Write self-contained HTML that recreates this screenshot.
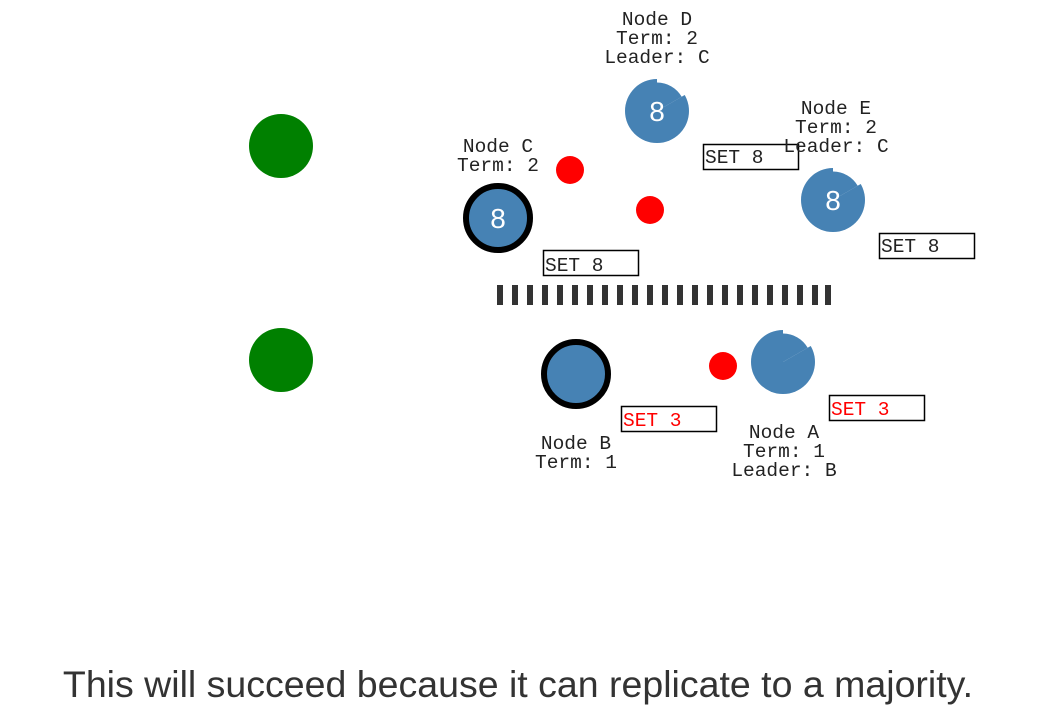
<!DOCTYPE html>
<html><head><meta charset="utf-8"><style>
html,body{margin:0;padding:0;background:#fff;width:1058px;height:713px;overflow:hidden}
svg{display:block}
.m{font-family:"Liberation Mono",monospace;font-size:19.5px;fill:#222;text-anchor:middle;font-weight:300}
.b{font-family:"Liberation Mono",monospace;font-size:19.5px;fill:#222}
.r{fill:#f00}
.n{font-family:"Liberation Sans",sans-serif;font-size:28px;fill:#fff;text-anchor:middle}
</style></head><body>
<svg width="1058" height="713" viewBox="0 0 1058 713">
<defs>
<g id="nc">
<circle r="32" fill="#4682b4"/>
<path d="M0,0 L0,-34 A34,34 0 0 1 29.4,-17 Z" fill="#fff"/>
<path d="M0,0 L0,-28.5 A28.5,28.5 0 0 1 24.7,-14.25 Z" fill="#4682b4"/>
</g>
</defs>
<circle cx="281" cy="146" r="32" fill="#008000"/>
<circle cx="281" cy="360" r="32" fill="#008000"/>

<text class="m" x="657" y="25">Node D</text>
<text class="m" x="657" y="44">Term: 2</text>
<text class="m" x="657" y="63">Leader: C</text>
<use href="#nc" x="657" y="111"/>
<text class="n" x="657" y="121">8</text>

<text class="m" x="836" y="114">Node E</text>
<text class="m" x="836" y="133">Term: 2</text>
<use href="#nc" x="833" y="200"/>
<text class="n" x="833" y="210">8</text>

<text class="m" x="498" y="152">Node C</text>
<text class="m" x="498" y="171">Term: 2</text>
<circle cx="498" cy="218" r="32" fill="#4682b4" stroke="#000" stroke-width="6"/>
<text class="n" x="498" y="228">8</text>

<circle cx="570" cy="170" r="14" fill="#f00"/>
<circle cx="650" cy="210" r="14" fill="#f00"/>
<circle cx="723" cy="366" r="14" fill="#f00"/>

<rect x="703.5" y="144.5" width="95" height="25" fill="none" stroke="#000" stroke-width="1.5"/>
<text class="b" x="705" y="163">SET 8</text>
<text class="m" x="836" y="152">Leader: C</text>
<rect x="543.5" y="250.5" width="95" height="25" fill="none" stroke="#000" stroke-width="1.5"/>
<text class="b" x="545" y="271">SET 8</text>
<rect x="879.5" y="233.5" width="95" height="25" fill="none" stroke="#000" stroke-width="1.5"/>
<text class="b" x="881" y="252">SET 8</text>

<g fill="#333">
<rect x="497" y="285" width="6" height="20"/><rect x="512" y="285" width="6" height="20"/><rect x="527" y="285" width="6" height="20"/><rect x="542" y="285" width="6" height="20"/><rect x="557" y="285" width="6" height="20"/><rect x="572" y="285" width="6" height="20"/><rect x="587" y="285" width="6" height="20"/><rect x="602" y="285" width="6" height="20"/><rect x="617" y="285" width="6" height="20"/><rect x="632" y="285" width="6" height="20"/><rect x="647" y="285" width="6" height="20"/><rect x="662" y="285" width="6" height="20"/><rect x="677" y="285" width="6" height="20"/><rect x="692" y="285" width="6" height="20"/><rect x="707" y="285" width="6" height="20"/><rect x="722" y="285" width="6" height="20"/><rect x="737" y="285" width="6" height="20"/><rect x="752" y="285" width="6" height="20"/><rect x="767" y="285" width="6" height="20"/><rect x="782" y="285" width="6" height="20"/><rect x="797" y="285" width="6" height="20"/><rect x="812" y="285" width="6" height="20"/><rect x="825" y="285" width="6" height="20"/>
</g>

<circle cx="576" cy="374" r="32" fill="#4682b4" stroke="#000" stroke-width="6"/>
<use href="#nc" x="783" y="362"/>

<rect x="621.5" y="406.5" width="95" height="25" fill="none" stroke="#000" stroke-width="1.5"/>
<text class="b r" x="623" y="426">SET 3</text>
<rect x="829.5" y="395.5" width="95" height="25" fill="none" stroke="#000" stroke-width="1.5"/>
<text class="b r" x="831" y="415">SET 3</text>

<text class="m" x="576" y="449">Node B</text>
<text class="m" x="576" y="468">Term: 1</text>
<text class="m" x="784" y="438">Node A</text>
<text class="m" x="784" y="457">Term: 1</text>
<text class="m" x="784" y="476">Leader: B</text>

<text x="518" y="697" text-anchor="middle" style="font-family:'Liberation Sans',sans-serif;font-size:37.5px;fill:#333">This will succeed because it can replicate to a majority.</text>
</svg>
</body></html>
